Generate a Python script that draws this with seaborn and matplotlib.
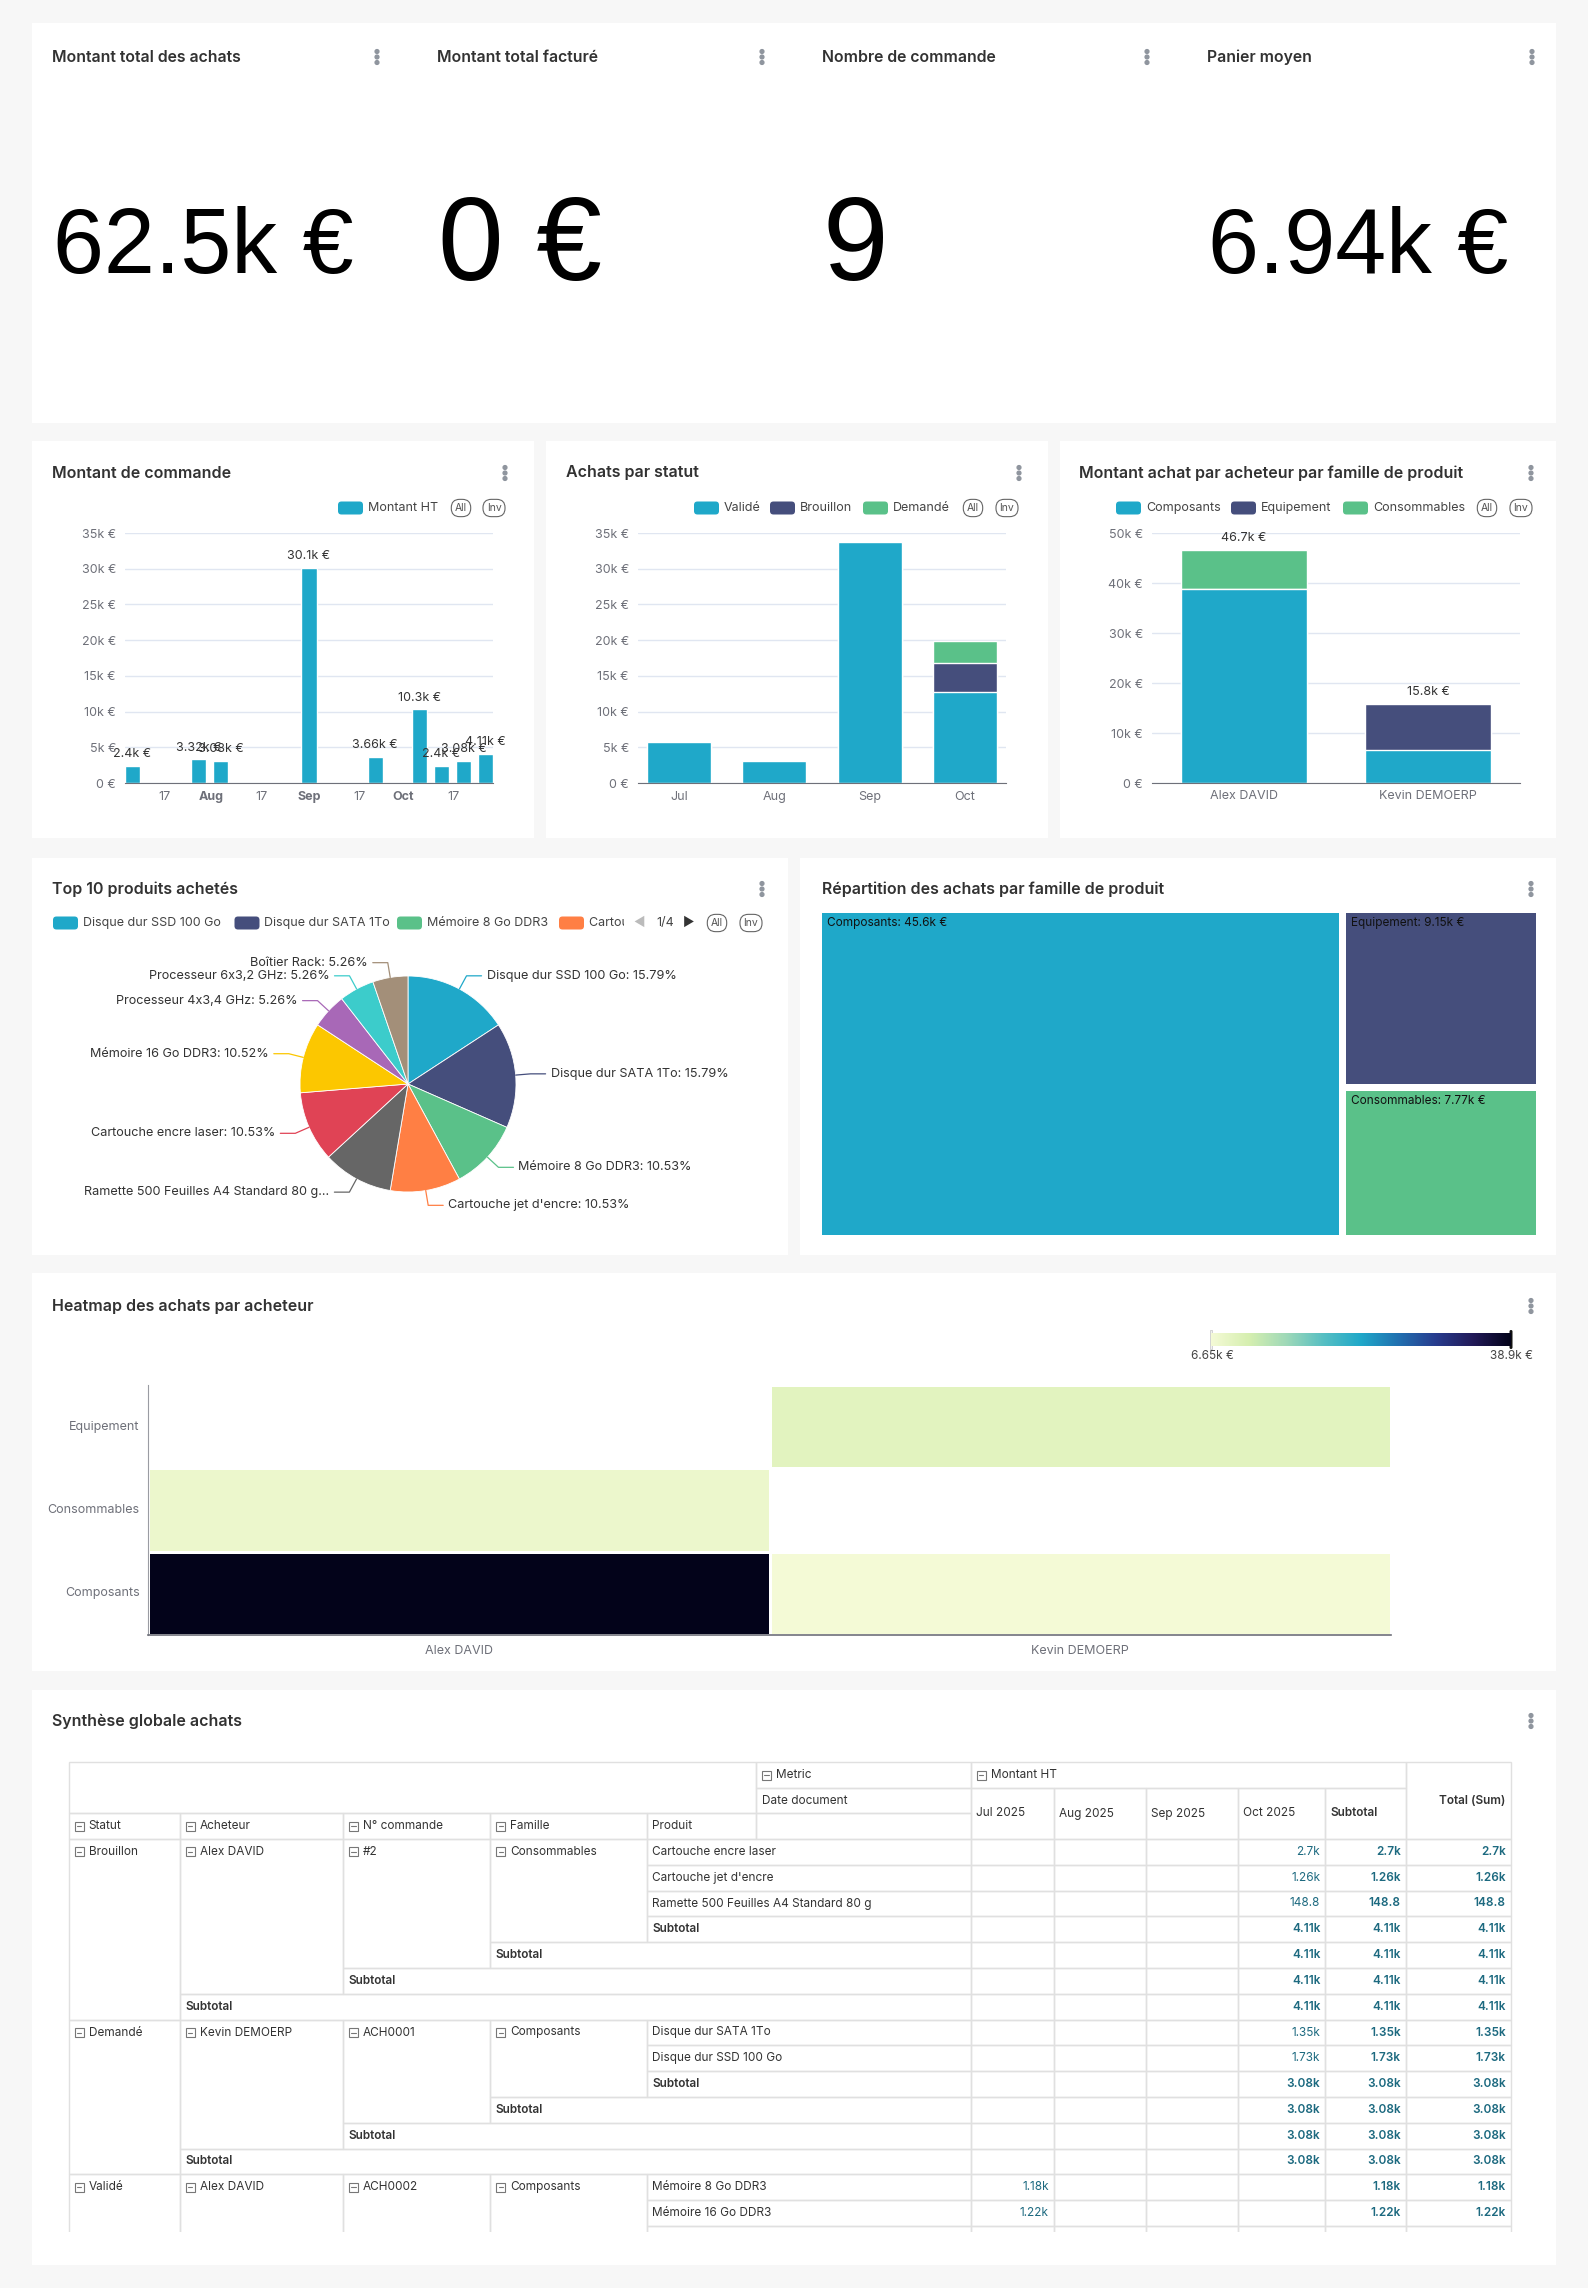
import numpy as np
import pandas as pd
import matplotlib
matplotlib.use("Agg")
import matplotlib.pyplot as plt
import matplotlib.dates as mdates
from matplotlib.patches import Rectangle, FancyBboxPatch, Circle
from matplotlib.colors import LinearSegmentedColormap
from matplotlib.transforms import Bbox
import seaborn as sns

W, H = 1588, 2288

# ---------------- data ----------------
KPI_TITLES = ["Montant total des achats", "Montant total facturé", "Nombre de commande", "Panier moyen"]
KPI_VALUES = ["62.5k €", "0 €", "9", "6.94k €"]

# weekly order amounts (week start dates)
ORDER_WEEKS = ["2025-07-07", "2025-07-28", "2025-08-04", "2025-09-01", "2025-09-22",
               "2025-10-06", "2025-10-13", "2025-10-20", "2025-10-27"]
ORDER_AMOUNTS = [2400, 3320, 3080, 30100, 3660, 10300, 2400, 3080, 4110]
ORDER_TICKS = ["2025-07-17", "2025-08-01", "2025-08-17", "2025-09-01", "2025-09-17", "2025-10-01", "2025-10-17"]
ORDER_TICK_LABELS = ["17", "Aug", "17", "Sep", "17", "Oct", "17"]

MONTHS = ["Jul", "Aug", "Sep", "Oct"]
STATUS_VALIDE = [5720, 3080, 33760, 12700]
STATUS_BROUILLON = [0, 0, 0, 4110]
STATUS_DEMANDE = [0, 0, 0, 3080]

BUYERS = ["Alex DAVID", "Kevin DEMOERP"]
BUYER_COMPOSANTS = [38900, 6650]
BUYER_EQUIPEMENT = [0, 9150]
BUYER_CONSOMMABLES = [7770, 0]

TOP_PRODUCTS = ["Disque dur SSD 100 Go", "Disque dur SATA 1To", "Mémoire 8 Go DDR3",
                "Cartouche jet d'encre", "Ramette 500 Feuilles A4 Standard 80 g",
                "Cartouche encre laser", "Mémoire 16 Go DDR3", "Processeur 4x3,4 GHz",
                "Processeur 6x3,2 GHz", "Boîtier Rack"]
TOP_SHARES = [15.79, 15.79, 10.53, 10.53, 10.53, 10.53, 10.52, 5.26, 5.26, 5.26]

FAMILIES = ["Composants", "Equipement", "Consommables"]
FAMILY_TOTALS = [45600, 9150, 7770]

HEAT_ROWS = ["Equipement", "Consommables", "Composants"]
HEAT_COLS = ["Alex DAVID", "Kevin DEMOERP"]
HEAT_VALUES = [[np.nan, 9150], [7770, np.nan], [38900, 6650]]

TAB_MONTHS = ["Jul 2025", "Aug 2025", "Sep 2025", "Oct 2025"]
TAB_STATUT = ["Brouillon", "Demandé", "Validé"]
TAB_ACHETEUR = ["Alex DAVID", "Kevin DEMOERP", "Alex DAVID"]
TAB_COMMANDE = ["#2", "ACH0001", "ACH0002"]
TAB_FAMILLE = ["Consommables", "Composants", "Composants"]
TAB_PRODUITS = [["Cartouche encre laser", "Cartouche jet d'encre", "Ramette 500 Feuilles A4 Standard 80 g"],
                ["Disque dur SATA 1To", "Disque dur SSD 100 Go"],
                ["Mémoire 8 Go DDR3", "Mémoire 16 Go DDR3"]]
TAB_VALUES = [["2.7k", "1.26k", "148.8"], ["1.35k", "1.73k"], ["1.18k", "1.22k"]]
TAB_MONTH_IDX = [3, 3, 0]
TAB_SUBTOTAL = ["4.11k", "3.08k", None]

# ---------------- style ----------------
BLUE, NAVY, GREEN = "#1FA8C9", "#454E7C", "#5AC189"
PALETTE = ["#1FA8C9", "#454E7C", "#5AC189", "#FF7F44", "#666666",
           "#E04355", "#FCC700", "#A868B7", "#3CCCCB", "#A38F79"]
GRAY = "#6e7079"
TXT = "#323232"

sns.set_style("white")
plt.rcParams["font.family"] = ["Inter", "DejaVu Sans"]

fig = plt.figure(figsize=(W / 100, H / 100), dpi=100)
fig.patch.set_facecolor("#f7f7f7")
bg = fig.add_axes([0, 0, 1, 1])
bg.set_xlim(0, W)
bg.set_ylim(H, 0)
bg.axis("off")


def px_axes(x0, y0, x1, y1):
    return fig.add_axes([x0 / W, 1 - y1 / H, (x1 - x0) / W, (y1 - y0) / H])


def px_clipbox(x0, y0, x1, y1):
    pts = bg.transData.transform([(x0, y0), (x1, y1)])
    return Bbox.from_extents(pts[:, 0].min(), pts[:, 1].min(), pts[:, 0].max(), pts[:, 1].max())


def kfmt(v):
    if v == 0:
        return "0 €"
    return f"{v / 1000:.3g}k €"


def title(x, y, s, size=11.5):
    bg.text(x, y, s, fontsize=size, weight="semibold", color=TXT, va="center")


def kebab(x, y):
    for dy in (-5.5, 0, 5.5):
        bg.add_patch(Circle((x, y + dy), 1.9, color="#8f959e"))


def swatch(x, y, color, label):
    bg.add_patch(FancyBboxPatch((x, y - 6.5), 25, 13, boxstyle="round,pad=0,rounding_size=3.5",
                                fc=color, ec="none"))
    return bg.text(x + 30, y, label, fontsize=9, color="#444", va="center")


def pills(x_all, x_inv, y):
    for x, s in ((x_all, "All"), (x_inv, "Inv")):
        bg.text(x, y, s, ha="center", va="center", fontsize=7.5, color="#555",
                bbox=dict(boxstyle="round,pad=0.35,rounding_size=0.8", fc="white", ec="#666", lw=0.8))


def style_bar_axes(ax, ymax, step):
    ax.set_ylim(0, ymax)
    ticks = np.arange(0, ymax + 1, step)
    ax.set_yticks(ticks)
    ax.set_yticklabels([kfmt(v) for v in ticks])
    ax.grid(axis="y", color="#e0e6f1", lw=1)
    ax.grid(axis="x", visible=False)
    ax.set_axisbelow(True)
    for s in ("top", "right", "left"):
        ax.spines[s].set_visible(False)
    ax.spines["bottom"].set_color(GRAY)
    ax.tick_params(axis="y", length=0, pad=6.5, labelsize=9, labelcolor=GRAY)
    ax.tick_params(axis="x", length=3.6, color=GRAY, pad=2.2, labelsize=9, labelcolor=GRAY)
    ax.set_xlabel("")
    ax.set_ylabel("")
    ax.set_facecolor("none")


# ---------------- cards ----------------
CARDS = [(32, 23, 1556, 423), (32, 441, 534, 838), (546, 441, 1048, 838), (1060, 441, 1556, 838),
         (32, 858, 788, 1255), (800, 858, 1556, 1255), (32, 1273, 1556, 1671), (32, 1690, 1556, 2265)]
for x0, y0, x1, y1 in CARDS:
    bg.add_patch(Rectangle((x0, y0), x1 - x0, y1 - y0, fc="white", ec="none"))

# ---------------- KPI row ----------------
kpi_x = [52, 437, 822, 1207]
kpi_size = [66, 85, 85, 66]
kpi_base = [273, 280, 280, 273]
for i, (t, v) in enumerate(zip(KPI_TITLES, KPI_VALUES)):
    title(kpi_x[i], 57, t, size=11.4)
    kebab(kpi_x[i] + 325, 57)
    bg.text(kpi_x[i] + 1, kpi_base[i], v, fontsize=kpi_size[i],
            family=["Liberation Sans", "DejaVu Sans"], color="black", va="baseline")

# ---------------- Montant de commande ----------------
title(52, 473, "Montant de commande")
kebab(505, 473)
swatch(338, 508, BLUE, "Montant HT")
pills(461, 494, 508)

ax1 = px_axes(125, 533, 493, 783)
dnum = mdates.date2num(pd.to_datetime(ORDER_WEEKS))
sns.barplot(x=dnum, y=ORDER_AMOUNTS, native_scale=True, orient="x", color=BLUE,
            saturation=1, width=0.68, errorbar=None, ax=ax1)
style_bar_axes(ax1, 35000, 5000)
half = 0.34 * 7
ax1.set_xlim(dnum.min() - half, dnum.max() + half)
tnum = mdates.date2num(pd.to_datetime(ORDER_TICKS))
ax1.set_xticks(tnum)
ax1.set_xticklabels(ORDER_TICK_LABELS)
for lab in ax1.get_xticklabels():
    if lab.get_text() != "17":
        lab.set_fontweight("bold")
for x, v in zip(dnum, ORDER_AMOUNTS):
    ax1.annotate(kfmt(v), (x, v), xytext=(0, 4), textcoords="offset points",
                 ha="center", va="bottom", fontsize=9, color="#333")

# ---------------- Achats par statut ----------------
title(566, 473, "Achats par statut")
kebab(1019, 473)
swatch(694, 508, BLUE, "Validé")
swatch(770, 508, NAVY, "Brouillon")
swatch(863, 508, GREEN, "Demandé")
pills(973, 1007, 508)

ax2 = px_axes(638, 533, 1006, 783)
lvl1 = np.array(STATUS_VALIDE)
lvl2 = lvl1 + np.array(STATUS_BROUILLON)
lvl3 = lvl2 + np.array(STATUS_DEMANDE)
for vals, col in ((lvl3, GREEN), (lvl2, NAVY), (lvl1, BLUE)):
    sns.barplot(x=MONTHS, y=vals, color=col, saturation=1, width=0.67, errorbar=None, ax=ax2)
style_bar_axes(ax2, 35000, 5000)
ax2.set_xlim(-0.43, 3.43)

# ---------------- Montant achat par acheteur ----------------
title(1079, 473, "Montant achat par acheteur par famille de produit")
kebab(1531, 473)
swatch(1116, 508, BLUE, "Composants")
swatch(1231, 508, NAVY, "Equipement")
swatch(1343, 508, GREEN, "Consommables")
pills(1487, 1521, 508)

ax3 = px_axes(1152, 533, 1520, 783)
b1 = np.array(BUYER_COMPOSANTS)
b2 = b1 + np.array(BUYER_EQUIPEMENT)
b3 = b2 + np.array(BUYER_CONSOMMABLES)
for vals, col in ((b3, GREEN), (b2, NAVY), (b1, BLUE)):
    sns.barplot(x=BUYERS, y=vals, color=col, saturation=1, width=0.69, errorbar=None, ax=ax3)
style_bar_axes(ax3, 50000, 10000)
ax3.set_xlim(-0.5, 1.5)
ax3.tick_params(axis="x", which="major", length=0, pad=5)
ax3.set_xticks([-0.5, 0.5, 1.5], minor=True)
ax3.tick_params(axis="x", which="minor", length=3.6, color=GRAY)
for i, v in enumerate(b3):
    ax3.annotate(kfmt(v), (i, v), xytext=(0, 4), textcoords="offset points",
                 ha="center", va="bottom", fontsize=9, color="#333")

# ---------------- Top 10 produits ----------------
title(52, 889, "Top 10 produits achetés")
kebab(762, 889)
for x, i in zip([53, 234.5, 397], range(3)):
    swatch(x, 923, PALETTE[i], TOP_PRODUCTS[i])
t = swatch(559, 923, PALETTE[3], TOP_PRODUCTS[3])
t.set_clip_box(px_clipbox(580, 905, 624, 945))
t.set_clip_on(True)
bg.text(639, 923, "◀", fontsize=9, color="#bbbbbb", ha="center", va="center")
bg.text(665, 923, "1/4", fontsize=9, color="#444", ha="center", va="center")
bg.text(689, 923, "▶", fontsize=9, color="#333", ha="center", va="center")
pills(717, 751, 923)

R = 108.0
pcx, pcy = 408, 1084
axp = px_axes(pcx - 350, pcy - 150, pcx + 350, pcy + 150)
axp.pie(TOP_SHARES, colors=PALETTE, startangle=90, counterclock=False, radius=1,
        wedgeprops=dict(edgecolor="white", linewidth=0.6))
axp.set_aspect("auto")
axp.set_xlim(-350 / R, 350 / R)
axp.set_ylim(-150 / R, 150 / R)
axp.axis("off")
cum = np.cumsum(TOP_SHARES) - np.array(TOP_SHARES) / 2
tot = sum(TOP_SHARES)
for name, share, c, col in zip(TOP_PRODUCTS, TOP_SHARES, cum, PALETTE):
    ang = np.deg2rad(90 - c / tot * 360)
    ux, uy = np.cos(ang), np.sin(ang)
    p1 = (ux * (1 + 15 / R), uy * (1 + 15 / R))
    side = 1 if ux >= 0 else -1
    p2 = (p1[0] + side * 15 / R, p1[1])
    axp.plot([ux, p1[0], p2[0]], [uy, p1[1], p2[1]], color=col, lw=0.9, clip_on=False)
    label = f"{name}: {share:.2f}%"
    if len(label) > 40:
        label = label[:37] + "..."
    axp.text(p2[0] + side * 5 / R, p2[1], label, fontsize=9.1, color="#333",
             ha="left" if side > 0 else "right", va="center")

# ---------------- Treemap ----------------
title(822, 889, "Répartition des achats par famille de produit")
kebab(1531, 889)
tx0, ty0, tx1, ty1 = 822, 913, 1536, 1235
axt = px_axes(tx0, ty0, tx1, ty1)
tw, th = tx1 - tx0, ty1 - ty0
axt.set_xlim(0, tw)
axt.set_ylim(th, 0)
axt.axis("off")
gap = 3.5
xs = tw * FAMILY_TOTALS[0] / sum(FAMILY_TOTALS)
ys = th * FAMILY_TOTALS[1] / (FAMILY_TOTALS[1] + FAMILY_TOTALS[2])
rects = [(0, 0, xs - gap, th), (xs + gap, 0, tw, ys - gap), (xs + gap, ys + gap, tw, th)]
for (x0, y0, x1, y1), fam, val, col in zip(rects, FAMILIES, FAMILY_TOTALS, [BLUE, NAVY, GREEN]):
    axt.add_patch(Rectangle((x0, y0), x1 - x0, y1 - y0, fc=col, ec="none"))
    axt.text(x0 + 5, y0 + 10, f"{fam}: {kfmt(val)}", fontsize=8.5, color="#111", va="center")

# ---------------- Heatmap ----------------
title(52, 1306, "Heatmap des achats par acheteur")
kebab(1531, 1306)
heat_cmap = LinearSegmentedColormap.from_list(
    "ylgnbu_dark", ["#f4fad6", "#d6efb0", "#9fd9b8", "#56bfc3", "#1fa8c9",
                    "#2170b0", "#283c8e", "#221a58", "#03031a"])
vmin, vmax = 6650, 38900
axh = px_axes(148, 1385, 1391, 1635)
heat_df = pd.DataFrame(HEAT_VALUES, index=HEAT_ROWS, columns=HEAT_COLS)
sns.heatmap(heat_df, cmap=heat_cmap, vmin=vmin, vmax=vmax, cbar=False,
            linewidths=1, linecolor="white", ax=axh)
axh.set_facecolor("white")
axh.set_yticklabels(HEAT_ROWS, rotation=0)
axh.set_xticklabels(HEAT_COLS, rotation=0)
axh.tick_params(axis="both", which="major", length=0, labelsize=9, labelcolor=GRAY)
axh.tick_params(axis="y", which="major", pad=6)
axh.tick_params(axis="x", which="major", pad=7)
axh.set_yticks([0, 1, 2, 3], minor=True)
axh.set_xticks([0, 1, 2], minor=True)
axh.tick_params(axis="both", which="minor", length=3.6, color=GRAY, width=0.8)
axh.spines["left"].set_visible(True)
axh.spines["left"].set_color("#9a9ca3")
axh.spines["left"].set_linewidth(0.8)
axh.spines["bottom"].set_visible(True)
axh.spines["bottom"].set_color(GRAY)
axh.spines["bottom"].set_linewidth(1.2)
axh.set_xlabel("")
axh.set_ylabel("")

axc = px_axes(1211, 1333, 1511, 1346)
axc.imshow(np.linspace(0, 1, 256)[None, :], cmap=heat_cmap, aspect="auto")
axc.axis("off")
bg.add_patch(Rectangle((1209.5, 1330), 2.5, 19, fc="#f0f0f0", ec="#cccccc", lw=0.6))
bg.add_patch(FancyBboxPatch((1509.5, 1330), 3, 19, boxstyle="round,pad=0,rounding_size=1.5",
                            fc="#111111", ec="none"))
bg.text(1212, 1356, kfmt(vmin), fontsize=8.5, color="#444", ha="center", va="center")
bg.text(1511, 1356, kfmt(vmax), fontsize=8.5, color="#444", ha="center", va="center")

# ---------------- Table ----------------
title(52, 1721, "Synthèse globale achats")
kebab(1531, 1721)
C = [68.6, 179.5, 343.0, 490.4, 646.6, 756.0, 970.6, 1053.8, 1145.8, 1237.7, 1325.3, 1405.6, 1510.7]
HY = [1762, 1788, 1813, 1839]
RH = 25.8
VCOL = "#1d6a80"
clip = Rectangle((60, 1755), 1470, 2232 - 1755, transform=bg.transData)


def cell(x0, x1, y0, y1, text="", icon=False, bold=False, align="left", color="#333", ty=None):
    r = Rectangle((x0, y0), x1 - x0, y1 - y0, fill=False, ec="#e0e0e0", lw=1)
    bg.add_patch(r)
    r.set_clip_path(clip)
    if not text:
        return
    ty = (y0 + y1) / 2 if ty is None else ty
    tx = x0 + 5.5
    if icon:
        sq = Rectangle((x0 + 6, ty - 4.5), 9, 9, fill=False, ec="#777", lw=0.8)
        bg.add_patch(sq)
        sq.set_clip_path(clip)
        ln, = bg.plot([x0 + 8.3, x0 + 12.7], [ty, ty], color="#777", lw=0.8)
        ln.set_clip_path(clip)
        tx = x0 + 20
    ha = "left"
    if align == "right":
        tx, ha = x1 - 5, "right"
    bg.text(tx, ty, text, ha=ha, va="center", fontsize=8.5,
            weight="semibold" if bold else "normal", color=color)


# header
cell(C[0], C[5], HY[0], HY[2])
cell(C[5], C[6], HY[0], HY[1], "Metric", icon=True)
cell(C[5], C[6], HY[1], HY[2], "Date document")
for i, (lab, ic) in enumerate([("Statut", True), ("Acheteur", True), ("N° commande", True),
                               ("Famille", True), ("Produit", False)]):
    cell(C[i], C[i + 1], HY[2], HY[3], lab, icon=ic)
cell(C[5], C[6], HY[2], HY[3])
cell(C[6], C[11], HY[0], HY[1], "Montant HT", icon=True)
for i, m in enumerate(TAB_MONTHS + ["Subtotal"]):
    cell(C[6 + i], C[7 + i], HY[1], HY[3], m, bold=(m == "Subtotal"))
cell(C[11], C[12], HY[0], HY[3], "Total (Sum)", bold=True, align="right")


def ry(i):
    return HY[3] + i * RH


def value_row(r, m_idx, val, bold_all):
    for k in range(4):
        cell(C[6 + k], C[7 + k], ry(r), ry(r + 1), val if k == m_idx else "",
             bold=bold_all, align="right", color=VCOL)
    cell(C[10], C[11], ry(r), ry(r + 1), val, bold=True, align="right", color=VCOL)
    cell(C[11], C[12], ry(r), ry(r + 1), val, bold=True, align="right", color=VCOL)


row = 0
for g in range(len(TAB_STATUT)):
    prods = TAB_PRODUITS[g]
    nl = len(prods)
    sub = TAB_SUBTOTAL[g]
    first_ty = ry(row) + RH / 2
    if sub is not None:
        spans = [nl + 4, nl + 3, nl + 2, nl + 1]
    else:
        spans = [nl + 1] * 4
    labels = [TAB_STATUT[g], TAB_ACHETEUR[g], TAB_COMMANDE[g], TAB_FAMILLE[g]]
    for lvl in range(4):
        cell(C[lvl], C[lvl + 1], ry(row), ry(row + spans[lvl]), labels[lvl], icon=True, ty=first_ty)
    for j, p in enumerate(prods):
        cell(C[4], C[6], ry(row + j), ry(row + j + 1), p)
        value_row(row + j, TAB_MONTH_IDX[g], TAB_VALUES[g][j], False)
    if sub is not None:
        for k in range(4):
            r = row + nl + k
            cell(C[4 - k], C[6], ry(r), ry(r + 1), "Subtotal", bold=True)
            value_row(r, TAB_MONTH_IDX[g], sub, True)
        row += nl + 4
    else:
        r = row + nl
        cell(C[4], C[6], ry(r), ry(r + 1))
        for k in range(6):
            cell(C[6 + k], C[7 + k], ry(r), ry(r + 1))
        row += nl + 1

fig.savefig("out.png", dpi=100)
